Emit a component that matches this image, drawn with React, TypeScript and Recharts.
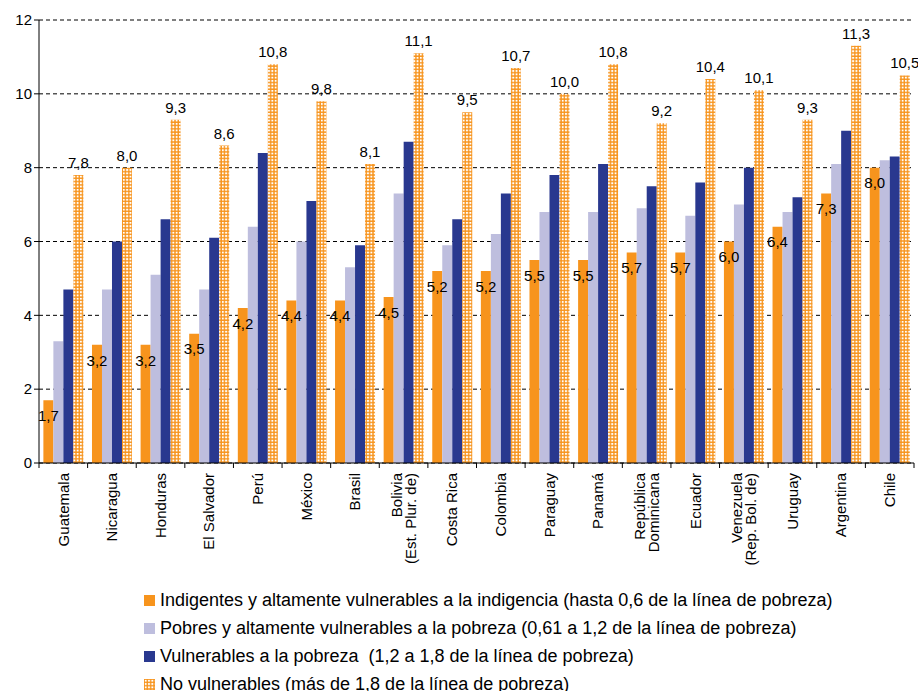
import { BarChart, Bar, XAxis, YAxis, CartesianGrid, LabelList } from "recharts";

const paises = [
  "Guatemala",
  "Nicaragua",
  "Honduras",
  "El Salvador",
  "Perú",
  "México",
  "Brasil",
  "Bolivia\n(Est. Plur. de)",
  "Costa Rica",
  "Colombia",
  "Paraguay",
  "Panamá",
  "República\nDominicana",
  "Ecuador",
  "Venezuela\n(Rep. Bol. de)",
  "Uruguay",
  "Argentina",
  "Chile",
];

const indigentes = [1.7, 3.2, 3.2, 3.5, 4.2, 4.4, 4.4, 4.5, 5.2, 5.2, 5.5, 5.5, 5.7, 5.7, 6.0, 6.4, 7.3, 8.0];
const pobres = [3.3, 4.7, 5.1, 4.7, 6.4, 6.0, 5.3, 7.3, 5.9, 6.2, 6.8, 6.8, 6.9, 6.7, 7.0, 6.8, 8.1, 8.2];
const vulnerables = [4.7, 6.0, 6.6, 6.1, 8.4, 7.1, 5.9, 8.7, 6.6, 7.3, 7.8, 8.1, 7.5, 7.6, 8.0, 7.2, 9.0, 8.3];
const noVulnerables = [7.8, 8.0, 9.3, 8.6, 10.8, 9.8, 8.1, 11.1, 9.5, 10.7, 10.0, 10.8, 9.2, 10.4, 10.1, 9.3, 11.3, 10.5];

const yTicks = [0, 2, 4, 6, 8, 10, 12];

const leyenda = [
  { key: "indigentes", label: "Indigentes y altamente vulnerables a la indigencia (hasta 0,6 de la línea de pobreza)" },
  { key: "pobres", label: "Pobres y altamente vulnerables a la pobreza (0,61 a 1,2 de la línea de pobreza)" },
  { key: "vulnerables", label: "Vulnerables a la pobreza  (1,2 a 1,8 de la línea de pobreza)" },
  { key: "noVulnerables", label: "No vulnerables (más de 1,8 de la línea de pobreza)" },
];

const data = paises.map((pais, i) => ({
  pais,
  indigentes: indigentes[i],
  pobres: pobres[i],
  vulnerables: vulnerables[i],
  noVulnerables: noVulnerables[i],
}));

const FONT = "'Liberation Sans', Arial, sans-serif";
const NARANJA = "#F7941D";
const LILA = "#BEBEDE";
const AZUL = "#29388F";

const TICK_SIZE = 5;
const TICK_MARGIN = 5;

const coma = (v: any) => Number(v).toFixed(1).replace(".", ",");

// cuadrícula de puntos blancos sobre naranja
function Trama({ id }: { id: string }) {
  return (
    <pattern id={id} patternUnits="userSpaceOnUse" width={3.3} height={3.3}>
      <rect width={3.3} height={3.3} fill={NARANJA} />
      <rect x={0.8} y={0.8} width={1.9} height={1.9} fill="#fff" />
    </pattern>
  );
}

function PaisTick({ x, y, payload, index }: any) {
  const lines = String(payload.value).split("\n");
  const half = payload.offset ?? 875 / paises.length / 2;
  const axisY = y - TICK_MARGIN - TICK_SIZE;
  const lineH = 14;
  const x0 = x - ((lines.length - 1) * lineH) / 2;
  return (
    <g>
      <line x1={x - half} x2={x - half} y1={axisY} y2={axisY + TICK_SIZE} stroke="#000" />
      {index === paises.length - 1 && (
        <line x1={x + half} x2={x + half} y1={axisY} y2={axisY + TICK_SIZE} stroke="#000" />
      )}
      <text
        transform={`translate(${x0}, ${y}) rotate(-90)`}
        textAnchor="end"
        fontSize={15}
        fontFamily={FONT}
        fill="#000"
      >
        {lines.map((l, i) => (
          <tspan key={i} x={0} dy={i === 0 ? "0.35em" : lineH}>
            {l}
          </tspan>
        ))}
      </text>
    </g>
  );
}

function Leyenda() {
  const colores: Record<string, string> = {
    indigentes: NARANJA,
    pobres: LILA,
    vulnerables: AZUL,
  };
  return (
    <div style={{ position: "absolute", left: 144, top: 586, fontFamily: FONT, fontSize: 18, color: "#000" }}>
      {leyenda.map((item) => (
        <div key={item.key} style={{ display: "flex", alignItems: "center", height: 28, whiteSpace: "pre" }}>
          <svg width={11} height={11} style={{ marginRight: 5, flexShrink: 0 }}>
            {item.key === "noVulnerables" ? (
              <>
                <defs>
                  <Trama id="trama-leyenda" />
                </defs>
                <rect width={11} height={11} fill="url(#trama-leyenda)" />
              </>
            ) : (
              <rect width={11} height={11} fill={colores[item.key]} />
            )}
          </svg>
          <span>{item.label}</span>
        </div>
      ))}
    </div>
  );
}

export default function App() {
  return (
    <div style={{ position: "absolute", left: 0, top: 0, width: 918, height: 691, background: "#fff" }}>
      <BarChart
        width={918}
        height={691}
        data={data}
        margin={{ top: 20, right: 4, bottom: 108, left: 0 }}
        barCategoryGap="9%"
        barGap={0}
      >
        <defs>
          <Trama id="trama-barra" />
        </defs>
        <CartesianGrid vertical={false} stroke="#000" strokeDasharray="4 3" />
        <XAxis
          dataKey="pais"
          interval={0}
          height={120}
          axisLine={{ stroke: "#000" }}
          tickLine={false}
          tickSize={TICK_SIZE}
          tickMargin={TICK_MARGIN}
          tick={<PaisTick />}
        />
        <YAxis
          width={39}
          domain={[0, 12]}
          ticks={yTicks}
          interval={0}
          axisLine={{ stroke: "#000" }}
          tickLine={{ stroke: "#000" }}
          tickSize={5}
          tickMargin={2}
          tick={{ fill: "#000", fontSize: 15, fontFamily: FONT }}
        />
        <Bar dataKey="indigentes" fill={NARANJA} isAnimationActive={false}>
          <LabelList
            dataKey="indigentes"
            position="insideTop"
            offset={10}
            formatter={coma}
            fill="#000"
            fontSize={15}
            fontFamily={FONT}
          />
        </Bar>
        <Bar dataKey="pobres" fill={LILA} isAnimationActive={false} />
        <Bar dataKey="vulnerables" fill={AZUL} isAnimationActive={false} />
        <Bar dataKey="noVulnerables" fill="url(#trama-barra)" isAnimationActive={false}>
          <LabelList
            dataKey="noVulnerables"
            position="top"
            offset={7}
            formatter={coma}
            fill="#000"
            fontSize={15}
            fontFamily={FONT}
          />
        </Bar>
      </BarChart>
      <Leyenda />
    </div>
  );
}
